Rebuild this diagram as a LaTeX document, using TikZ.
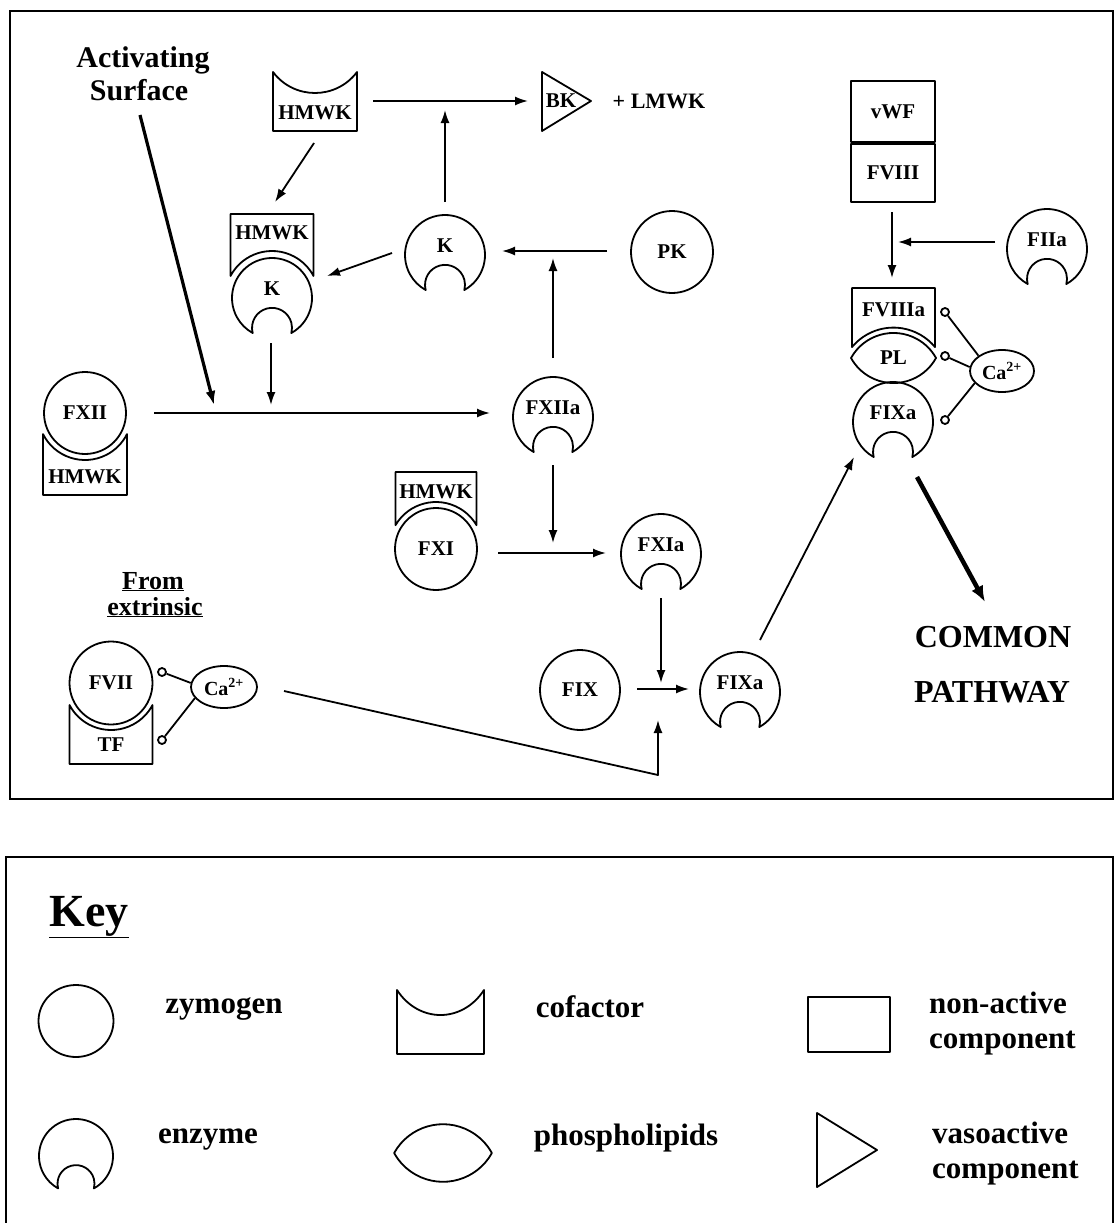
\documentclass[tikz,border=0pt]{standalone}
\usepackage{fontspec}
\setmainfont{Liberation Serif}
\usetikzlibrary{arrows.meta,shapes.geometric}
\begin{document}
\begin{tikzpicture}[x=1pt,y=1pt,
 ln/.style={line width=1.8pt, line join=round},
 arr/.style={ln, -{Latex[length=13pt,width=9pt]}},
 lab/.style={font=\fontsize{21}{24}\selectfont\bfseries, inner sep=0pt},
 zym/.style={ln, draw, circle, minimum size=82pt, inner sep=0pt, font=\fontsize{21}{24}\selectfont\bfseries},
 boxn/.style={ln, draw, rectangle, minimum width=84pt, inner sep=0pt, font=\fontsize{21}{24}\selectfont\bfseries},
 cal/.style={ln, draw, ellipse, minimum width=64pt, minimum height=42pt, inner sep=0pt, font=\fontsize{20}{24}\selectfont\bfseries},
 oend/.style={ln, draw, circle, minimum size=8pt, inner sep=0pt},
 big/.style={font=\fontsize{30}{33}\selectfont\bfseries, inner sep=0pt},
 keytxt/.style={font=\fontsize{31}{34}\selectfont\bfseries, inner sep=0pt},
 pics/enzpic/.style={code={
   \draw[ln] (-61.15:40) arc[start angle=-61.15, end angle=241.15, radius=40]
      arc[start angle=195, end angle=-15, radius=20] -- cycle;
   \node[circle, minimum size=80pt, inner sep=0pt] (-c) at (0,0) {};
   \node[lab] (-t) at (0,9) {#1};
 }},
 pics/cuppic/.style args={#1/#2/#3}{code={
   \draw[ln] (#1,0) .. controls ({#1/2},{-4*#3/3}) and ({-#1/2},{-4*#3/3}) .. (-#1,0)
      -- (-#1,-#2) -- (#1,-#2) -- cycle;
 }},
 pics/caphug/.style args={#1/#2/#3}{code={
   \pgfmathsetmacro\hgA{sqrt(#2*#2-#1*#1)}
   \pgfmathsetmacro\agA{acos(#1/#2)}
   \draw[ln] (-#1,\hgA) arc[start angle={180-\agA}, end angle=\agA, radius=#2]
      -- (#1,#3) -- (-#1,#3) -- cycle;
 }},
 pics/cuphug/.style args={#1/#2/#3}{code={
   \pgfmathsetmacro\hgA{sqrt(#2*#2-#1*#1)}
   \pgfmathsetmacro\agA{acos(#1/#2)}
   \draw[ln] (-#1,-\hgA) arc[start angle={-180+\agA}, end angle=-\agA, radius=#2]
      -- (#1,-#3) -- (-#1,-#3) -- cycle;
 }},
 pics/lenspic/.style={code={
   \draw[ln] (-42.5,0) arc[start angle=151, end angle=29, radius=48.6]
      arc[start angle=-29, end angle=-151, radius=48.6] -- cycle;
 }}
]
\useasboundingbox (0,0) rectangle (1116,-1223);
\fill[white] (0,0) rectangle (1116,-1223);
\clip (0,0) rectangle (1116,-1223);

% frames
\draw[line width=2.5pt] (10,-11) rectangle (1113,-799);
\draw[line width=2.5pt] (6,-857) rectangle (1113,-1240);

% Activating surface
\node[big, anchor=base] (act1) at (143,-67) {Activating};
\node[big, anchor=base] (act2) at (139,-100) {Surface};

% top HMWK and BK
\pic (hm1) at (315,-72) {cuppic=42/59/21};
\node[lab] (hm1t) at (315,-113) {HMWK};
\draw[ln] (542,-72) -- (591,-101) -- (542,-131) -- cycle;
\node[lab] (bk) at (561,-101) {BK};
\node[font=\fontsize{22}{24}\selectfont\bfseries, inner sep=0pt] (lmwk) at (659,-101) {+ LMWK};

% HMWK/K complex
\pic (kc) at (272,-298) {enzpic=K};
\pic (kccap) at (272,-298) {caphug=41.5/47/84};
\node[lab] (hm2t) at (272,-233) {HMWK};

% K, PK
\pic (k) at (445,-255) {enzpic=K};
\node[zym] (pk) at (672,-252) {PK};

% FXII / HMWK
\node[zym] (fxii) at (85,-413) {FXII};
\pic (fxiicup) at (85,-413) {cuphug=42/47/82};
\node[lab] (hm3t) at (85,-477) {HMWK};

% FXIIa
\pic (fxiia) at (553,-417) {enzpic=FXIIa};

% HMWK / FXI
\node[zym] (fxi) at (436,-549) {FXI};
\pic (fxicap) at (436,-549) {caphug=40.5/47/77};
\node[lab] (hm4t) at (436,-492) {HMWK};

% FXIa, FIX, FIXa
\pic (fxia) at (661,-554) {enzpic=FXIa};
\node[zym, minimum size=80pt] (fix) at (580,-690) {FIX};
\pic (fixa1) at (740,-692) {enzpic=FIXa};

% From extrinsic
\node[anchor=base, font=\fontsize{26}{28}\selectfont\bfseries, inner sep=0pt] (from) at (153,-589) {\underline{From}};
\node[anchor=base, font=\fontsize{26}{28}\selectfont\bfseries, inner sep=0pt] (ext) at (155,-615) {\underline{extrinsic}};

% FVII / TF / Ca
\node[zym, minimum size=83pt] (fvii) at (111,-683) {FVII};
\pic (tfcup) at (111,-683) {cuphug=41.5/47/81};
\node[lab] (tf) at (111,-745) {TF};
\node[cal, minimum width=66pt] (ca1) at (224,-687) {Ca\textsuperscript{2+}};
\node[oend] (o1) at (162,-672) {};
\node[oend] (o2) at (162,-740) {};
\draw[ln] (o1) -- (ca1.173);
\draw[ln] (o2) -- (ca1.201);

% vWF / FVIII
\node[boxn, minimum height=61pt] (vwf) at (893,-111.5) {vWF};
\node[boxn, minimum height=58pt] (fviii) at (893,-173) {FVIII};
\pic (fiia) at (1047,-249) {enzpic=FIIa};

% FVIIIa / PL / FIXa / Ca
\pic (pl) at (893.5,-358) {lenspic};
\node[lab] (plt) at (893.5,-358) {PL};
\pic (fviiiacap) at (893.5,-381.6) {caphug=41.5/54/93.6};
\node[lab] (fviiia) at (893.5,-310) {FVIIIa};
\pic (fixa2) at (893,-422) {enzpic=FIXa};
\node[cal] (ca2) at (1002,-371) {Ca\textsuperscript{2+}};
\node[oend] (o3) at (945,-312) {};
\node[oend] (o4) at (945,-356) {};
\node[oend] (o5) at (945,-420) {};
\draw[ln] (o3) -- (ca2.147);
\draw[ln] (o4) -- (ca2.173);
\draw[ln] (o5) -- (ca2.204);

% common pathway
\node[anchor=base, font=\fontsize{32}{34}\selectfont\bfseries, inner sep=0pt] (common) at (993,-647) {COMMON};
\node[anchor=base, font=\fontsize{32}{34}\selectfont\bfseries, inner sep=0pt] (pathway) at (992,-702) {PATHWAY};

% connector end points
\coordinate (actS) at (140,-115);
\coordinate (actE) at (214,-405);
\coordinate (bkS) at (373,-101);
\coordinate (bkE) at (528,-101);
\coordinate (kUpS) at (445,-202);
\coordinate (kUpE) at (445,-110);
\coordinate (hmdS) at (314,-143);
\coordinate (hmdE) at (275,-202);
\coordinate (kcS) at (392,-253);
\coordinate (kcE) at (327,-276);
\coordinate (pkS) at (607,-251);
\coordinate (pkE) at (502,-251);
\coordinate (xiiaUpS) at (553,-358);
\coordinate (xiiaUpE) at (553,-258);
\coordinate (kcDnS) at (271,-343);
\coordinate (kcDnE) at (271,-405);
\coordinate (xiiS) at (154,-413);
\coordinate (xiiE) at (490,-413);
\coordinate (xiiaDnS) at (553,-465);
\coordinate (xiiaDnE) at (553,-543);
\coordinate (xiS) at (498,-553);
\coordinate (xiE) at (606,-553);
\coordinate (xiaDnS) at (661,-598);
\coordinate (xiaDnE) at (661,-683);
\coordinate (ixS) at (637,-689);
\coordinate (ixE) at (689,-689);
\coordinate (caL) at (284,-691);
\coordinate (bendL) at (658,-775);
\coordinate (ixUp) at (658,-720);
\coordinate (ixaS) at (760,-640);
\coordinate (ixaE) at (854,-457);
\coordinate (viiiS) at (892,-212);
\coordinate (viiiE) at (892,-278);
\coordinate (iiaS) at (995,-242);
\coordinate (iiaE) at (898,-242);
\coordinate (cpS) at (917,-477);
\coordinate (cpE) at (985,-602);

% connectors
\draw[ln, line width=3.2pt, -{Latex[length=14pt,width=10pt]}] (actS) -- (actE);
\draw[arr] (bkS) -- (bkE);
\draw[arr] (kUpS) -- (kUpE);
\draw[arr] (hmdS) -- (hmdE);
\draw[arr] (kcS) -- (kcE);
\draw[arr] (pkS) -- (pkE);
\draw[arr] (xiiaUpS) -- (xiiaUpE);
\draw[arr] (kcDnS) -- (kcDnE);
\draw[arr] (xiiS) -- (xiiE);
\draw[arr] (xiiaDnS) -- (xiiaDnE);
\draw[arr] (xiS) -- (xiE);
\draw[arr] (xiaDnS) -- (xiaDnE);
\draw[arr] (ixS) -- (ixE);
\draw[arr] (caL) -- (bendL) -- (ixUp);
\draw[arr] (ixaS) -- (ixaE);
\draw[arr] (viiiS) -- (viiiE);
\draw[arr] (iiaS) -- (iiaE);
\draw[ln, line width=4.5pt, -{Latex[length=16pt,width=13pt]}] (cpS) -- (cpE);

% key
\node[anchor=base, font=\fontsize{46}{50}\selectfont\bfseries, inner sep=0pt] (key) at (89,-926) {\underline{Key}};
\node[ln, draw, ellipse, minimum width=75pt, minimum height=72pt, inner sep=0pt] (kz) at (76,-1021) {};
\node[keytxt, anchor=base] (kzt) at (224,-1013) {zymogen};
\pic (kcof) at (440.5,-990) {cuppic=43.5/64/25};
\node[keytxt, anchor=base] (kct) at (590,-1017) {cofactor};
\node[ln, draw, minimum width=82pt, minimum height=55pt, inner sep=0pt] (kr) at (849,-1024.5) {};
\node[keytxt, anchor=base west] (kna) at (929,-1013) {non-active};
\node[keytxt, anchor=base west] (kco1) at (929,-1048) {component};
\pic[scale=0.925] (ke) at (76,-1156) {enzpic={}};
\node[keytxt, anchor=base] (ket) at (208,-1143) {enzyme};
\pic[scale=1.15] (kl) at (443,-1153) {lenspic};
\node[keytxt, anchor=base] (klt) at (626,-1145) {phospholipids};
\draw[ln] (817,-1113) -- (877,-1150) -- (817,-1187) -- cycle;
\node[keytxt, anchor=base west] (kva) at (932,-1143) {vasoactive};
\node[keytxt, anchor=base west] (kco2) at (932,-1178) {component};
\end{tikzpicture}
\end{document}
